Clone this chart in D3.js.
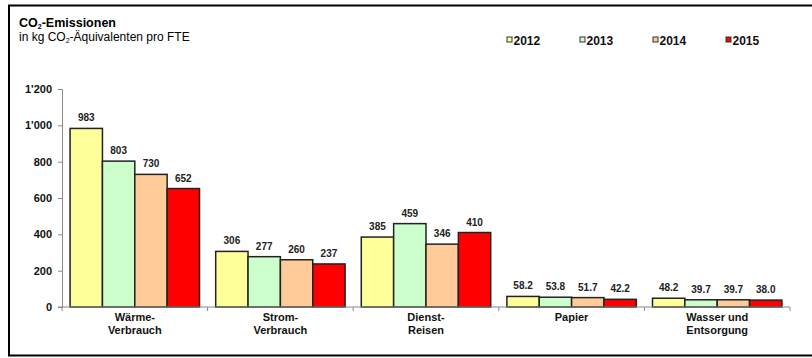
<!DOCTYPE html>
<html>
<head>
<meta charset="utf-8">
<script src="https://cdn.jsdelivr.net/npm/d3@7"></script>
<style>
  body { margin: 0; background: #fff; }
  text { font-family: "Liberation Sans", Arial, sans-serif; }
</style>
</head>
<body>
<svg id="chart" width="812" height="358"></svg>
<script>
// data
const categories = [['Wärme-', 'Verbrauch'], ['Strom-', 'Verbrauch'], ['Dienst-', 'Reisen'], ['Papier'], ['Wasser und', 'Entsorgung']];
const years = ['2012', '2013', '2014', '2015'];
const values = {
  '2012': [983, 306, 385, 58.2, 48.2],
  '2013': [803, 277, 459, 53.8, 39.7],
  '2014': [730, 260, 346, 51.7, 39.7],
  '2015': [652, 237, 410, 42.2, 38.0]
};
const labels = {
  '2012': ['983', '306', '385', '58.2', '48.2'],
  '2013': ['803', '277', '459', '53.8', '39.7'],
  '2014': ['730', '260', '346', '51.7', '39.7'],
  '2015': ['652', '237', '410', '42.2', '38.0']
};
const yTicks = [0, 200, 400, 600, 800, 1000, 1200];
const colors = ['#ffff99', '#ccffcc', '#ffcc99', '#ff0000'];

const svg = d3.select('#chart');

// frame (cut off on the right)
svg.append('path')
  .attr('d', 'M812,5.5 H9 V355.5 H812')
  .attr('fill', 'none')
  .attr('stroke', '#000')
  .attr('stroke-width', 2);

// title
const title = svg.append('text').attr('x', 19).attr('y', 27)
  .style('font-size', '12.5px').style('font-weight', 'bold');
title.append('tspan').text('CO');
title.append('tspan').text('2').attr('dy', 2).style('font-size', '7px');
title.append('tspan').text('-Emissionen').attr('dy', -2);

const sub = svg.append('text').attr('x', 19).attr('y', 41)
  .style('font-size', '12px');
sub.append('tspan').text('in kg CO');
sub.append('tspan').text('2').attr('dy', 2).style('font-size', '7px');
sub.append('tspan').text('-Äquivalenten pro FTE').attr('dy', -2);

// legend
const legend = svg.selectAll('.legend')
  .data(years)
  .enter().append('g')
  .attr('class', 'legend')
  .attr('transform', (d, i) => 'translate(' + (507 + i * 73) + ',37)');

legend.append('rect')
  .attr('width', 5).attr('height', 5)
  .attr('fill', (d, i) => colors[i])
  .attr('stroke', '#333').attr('stroke-width', 1);

legend.append('text')
  .attr('x', 6.5).attr('y', 7.5)
  .style('font-size', '12px').style('font-weight', 'bold')
  .attr('fill', '#111')
  .text(d => d);

// scales
const x0 = d3.scaleBand()
  .domain(d3.range(categories.length))
  .range([62, 790]);

const x1 = d3.scaleBand()
  .domain(years)
  .range([0, x0.bandwidth()])
  .paddingOuter(0.25);

const y = d3.scaleLinear()
  .domain([0, 1200])
  .range([307, 89]);

// y axis
const yAxis = svg.append('g')
  .attr('transform', 'translate(62,0)')
  .call(d3.axisLeft(y)
    .tickValues(yTicks)
    .tickSize(4)
    .tickPadding(6)
    .tickFormat(d => d3.format(',')(d).replace(',', "'")));

yAxis.select('.domain').attr('stroke', '#888');
yAxis.selectAll('.tick line').attr('stroke', '#888');
yAxis.selectAll('.tick text')
  .style('font-size', '11px').style('font-weight', 'bold')
  .style('font-family', '"Liberation Sans", Arial, sans-serif')
  .attr('fill', '#111');

// bars
const groups = svg.selectAll('.group')
  .data(categories)
  .enter().append('g')
  .attr('class', 'group')
  .attr('transform', (d, i) => 'translate(' + x0(i) + ',0)');

groups.each(function(cat, ci) {
  const g = d3.select(this);
  const rows = years.map((yr, k) => ({ yr: yr, k: k, v: values[yr][ci], lab: labels[yr][ci] }));

  g.selectAll('rect')
    .data(rows)
    .enter().append('rect')
    .attr('x', d => x1(d.yr))
    .attr('y', d => y(d.v))
    .attr('width', x1.bandwidth())
    .attr('height', d => y(0) - y(d.v))
    .attr('fill', d => colors[d.k])
    .attr('stroke', '#222')
    .attr('stroke-width', 1.5);

  g.selectAll('.val')
    .data(rows)
    .enter().append('text')
    .attr('class', 'val')
    .attr('x', d => x1(d.yr) + x1.bandwidth() / 2)
    .attr('y', d => y(d.v) - 7)
    .attr('text-anchor', 'middle')
    .style('font-size', '10px').style('font-weight', 'bold')
    .attr('fill', '#222')
    .text(d => d.lab);
});

// x axis
const xAxisG = svg.append('g');
xAxisG.append('line')
  .attr('x1', 58).attr('x2', 790)
  .attr('y1', y(0)).attr('y2', y(0))
  .attr('stroke', '#888');

xAxisG.selectAll('.xtick')
  .data(d3.range(categories.length + 1))
  .enter().append('line')
  .attr('x1', d => 62 + d * x0.bandwidth())
  .attr('x2', d => 62 + d * x0.bandwidth())
  .attr('y1', y(0)).attr('y2', y(0) + 4)
  .attr('stroke', '#888');

const catLabels = svg.selectAll('.cat')
  .data(categories)
  .enter().append('text')
  .attr('class', 'cat')
  .attr('text-anchor', 'middle')
  .style('font-size', '11px').style('font-weight', 'bold')
  .attr('fill', '#111');

catLabels.each(function(lines, i) {
  const t = d3.select(this);
  lines.forEach((l, j) => {
    t.append('tspan')
      .attr('x', x0(i) + x0.bandwidth() / 2)
      .attr('y', 321 + j * 13)
      .text(l);
  });
});
</script>
</body>
</html>
